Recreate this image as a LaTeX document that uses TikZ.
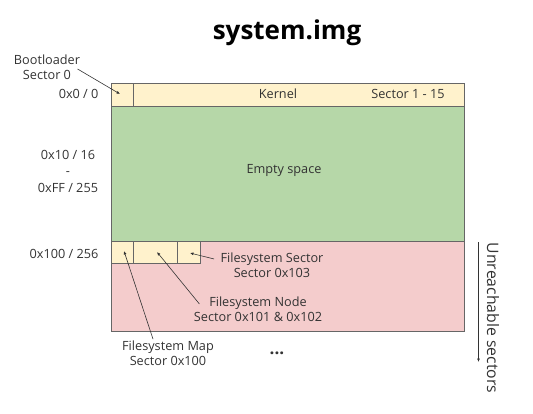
\documentclass[tikz,border=0pt]{standalone}
\usepackage{fontspec}
\setmainfont{Open Sans}
\usetikzlibrary{positioning,arrows.meta}
\definecolor{kernelc}{HTML}{FFF2CC}
\definecolor{emptyc}{HTML}{B6D7A8}
\definecolor{unreachc}{HTML}{F4CCCC}
\definecolor{edgec}{HTML}{666666}
\definecolor{txtc}{HTML}{333333}

\begin{document}
\begin{tikzpicture}[x=1pt,y=-1pt,
  every node/.style={font=\fontsize{12.7}{15}\selectfont,text=txtc,align=center},
  cell/.style={draw=edgec,line width=0.6pt},
  ptr/.style={draw=txtc,line width=0.6pt,-{Latex[length=3.5pt,width=3pt]}}]
\useasboundingbox (0,0) rectangle (533,413);
% regions
\filldraw[cell,fill=unreachc] (111,241) rectangle (464,331);
\filldraw[cell,fill=emptyc] (111,106) rectangle (464,241);
\filldraw[cell,fill=kernelc] (111,83) rectangle (464,106);
\draw[cell] (133,83) -- (133,106);
\foreach \a/\b in {111/133,133/177,177/200} \filldraw[cell,fill=kernelc] (\a,241) rectangle (\b,263);
% texts
\node[font=\bfseries\fontsize{26}{30}\selectfont,text=black] (title) at (287,33) {system.img};
\node (kernel) at (278,94) {Kernel};
\node (ksect) at (408,94) {Sector 1 - 15};
\node (empty) at (284,170) {Empty space};
\node[anchor=east] (off0) at (102,94) {0x0 / 0};
\node[font=\fontsize{12.7}{16.5}\selectfont] (off16) at (68,171) {0x10 / 16\\-\\0xFF / 255};
\node[anchor=east] (off256) at (102,254) {0x100 / 256};
\node (boot) at (47,67) {Bootloader\\Sector 0};
\node (fssect) at (272,265) {Filesystem Sector\\Sector 0x103};
\node (fsnode) at (258,309) {Filesystem Node\\Sector 0x101 \& 0x102};
\node (fsmap) at (168,353) {Filesystem Map\\Sector 0x100};
\node[font=\bfseries\fontsize{17}{20}\selectfont] (more) at (277,353) {...};
\node[rotate=-90,font=\fontsize{15.8}{18}\selectfont] (unreach) at (493,318) {Unreachable sectors};
% pointers
\coordinate (bootp) at (120,94);
\coordinate (mapp) at (124,251);
\coordinate (nodep) at (157,252);
\coordinate (sectp) at (190,253);
\coordinate (utop) at (478.5,242);
\coordinate (ubot) at (478.5,362);
\draw[ptr] ([shift={(-6,2)}]boot.east) -- (bootp);
\draw[ptr] ([shift={(-3,-6)}]fssect.west) -- (sectp);
\draw[ptr] ([shift={(9,-5)}]fsnode.west) -- (nodep);
\draw[ptr] ([shift={(-15,2)}]fsmap.north) -- (mapp);
\draw[ptr,line width=0.8pt] (utop) -- (ubot);
\end{tikzpicture}
\end{document}
